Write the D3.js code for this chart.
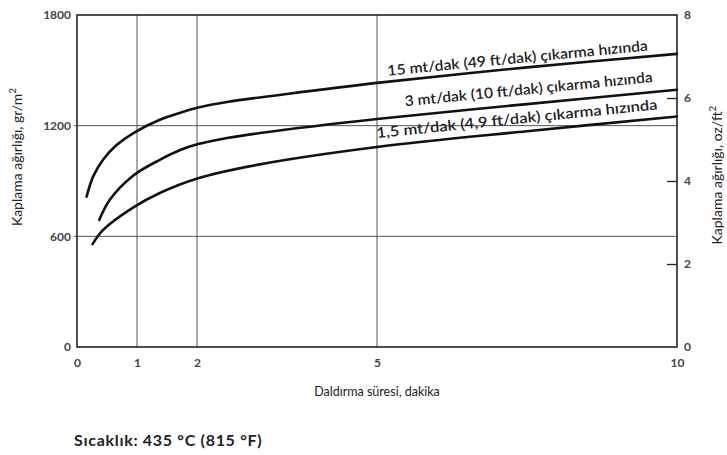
<!DOCTYPE html>
<html lang="tr">
  <head>
    <meta charset="UTF-8" />
    <title>Kaplama ağırlığı - Daldırma süresi</title>
    <style>
      body {
        margin: 0;
        background-color: #fff;
      }
      svg text {
        font-family: Lato, "Open Sans", sans-serif;
        fill: #222;
      }
    </style>
  </head>
  <body>
    <svg id="chart" width="727" height="455"></svg>
    <script src="https://d3js.org/d3.v7.min.js"></script>
    <script>
      // dipping time (min) -> coating weight (g/m2)
      const times15 = [0.16, 0.27, 0.44, 0.66, 0.94, 1.38, 1.72, 2.02, 2.5, 3.5, 5, 7.5, 10];
      const weights15 = [815, 925, 1018, 1095, 1160, 1232, 1270, 1298, 1328, 1372, 1432, 1516, 1589];

      const times3 = [0.37, 0.55, 0.94, 1.38, 1.72, 2.02, 2.5, 3.05, 5, 7.5, 10];
      const weights3 = [689, 800, 930, 1015, 1068, 1100, 1133, 1160, 1236, 1317, 1395];

      const times15b = [0.26, 0.44, 0.94, 1.38, 2.02, 3.05, 5, 7.5, 10];
      const weights15b = [558, 636, 757, 835, 915, 990, 1084, 1170, 1250];

      const seriesLabels = [
        "15 mt/dak (49 ft/dak) çıkarma hızında",
        "3 mt/dak (10 ft/dak) çıkarma hızında",
        "1,5 mt/dak (4,9 ft/dak) çıkarma hızında",
      ];

      const xTicks = [0, 1, 2, 5, 10];
      const yTicks = [0, 600, 1200, 1800];
      const ozTicks = [0, 2, 4, 6, 8];

      const svg = d3.select("#chart");
      const margin = { top: 15, right: 50, bottom: 108, left: 77 };
      const width = 727 - margin.left - margin.right;
      const height = 455 - margin.top - margin.bottom;

      const g = svg
        .append("g")
        .attr("transform", `translate(${margin.left},${margin.top})`);

      const x = d3.scaleLinear().domain([0, 10]).range([0, width]);
      const y = d3.scaleLinear().domain([0, 1800]).range([height, 0]);
      const yOz = d3.scaleLinear().domain([0, 8]).range([height, 0]);

      // grid lines
      g.append("g")
        .selectAll("line")
        .data(yTicks.filter((d) => d > 0 && d < 1800))
        .join("line")
        .attr("x1", -3)
        .attr("x2", width)
        .attr("y1", (d) => y(d))
        .attr("y2", (d) => y(d))
        .style("stroke", "#555")
        .style("stroke-width", 1);

      g.append("g")
        .selectAll("line")
        .data(xTicks.filter((d) => d > 0 && d < 10))
        .join("line")
        .attr("x1", (d) => x(d))
        .attr("x2", (d) => x(d))
        .attr("y1", 0)
        .attr("y2", height)
        .style("stroke", "#555")
        .style("stroke-width", 1);

      // frame
      g.append("rect")
        .attr("width", width)
        .attr("height", height)
        .style("fill", "none")
        .style("stroke", "#222")
        .style("stroke-width", 1.6);

      function styleTicks(axis) {
        axis.select(".domain").remove();
        axis
          .selectAll("text")
          .style("font-size", "12px")
          .style("font-weight", "bold")
          .style("font-family", "Lato, sans-serif")
          .style("fill", "#444");
      }

      // left axis
      const leftAxis = g
        .append("g")
        .call(
          d3
            .axisLeft(y)
            .tickValues(yTicks)
            .tickFormat(d3.format("d"))
            .tickSize(0)
            .tickPadding(6)
        );
      styleTicks(leftAxis);

      // right axis (oz/ft2)
      const rightAxis = g
        .append("g")
        .attr("transform", `translate(${width},0)`)
        .call(
          d3
            .axisRight(yOz)
            .tickValues(ozTicks)
            .tickSizeInner(0)
            .tickSizeOuter(0)
            .tickPadding(7)
        );
      styleTicks(rightAxis);
      rightAxis
        .selectAll(".tick")
        .filter((d) => d > 0 && d < 8)
        .append("line")
        .attr("x1", -10)
        .attr("x2", 0)
        .style("stroke", "#222")
        .style("stroke-width", 1.3);

      // bottom axis
      const bottomAxis = g
        .append("g")
        .attr("transform", `translate(0,${height})`)
        .call(d3.axisBottom(x).tickValues(xTicks).tickSize(0).tickPadding(11));
      styleTicks(bottomAxis);

      // curves
      const series = [
        { times: times15, weights: weights15 },
        { times: times3, weights: weights3 },
        { times: times15b, weights: weights15b },
      ];

      const line = d3
        .line()
        .x((d) => x(d[0]))
        .y((d) => y(d[1]))
        .curve(d3.curveCatmullRom.alpha(0.5));

      g.selectAll("path.curve")
        .data(series)
        .join("path")
        .attr("class", "curve")
        .attr("d", (s) => line(d3.zip(s.times, s.weights)))
        .style("fill", "none")
        .style("stroke", "#111")
        .style("stroke-width", 2.6)
        .style("stroke-linecap", "round");

      // labels along the curves
      const labelLayout = [
        { t0: 5.18, t1: 9.52, lift: 6 },
        { t0: 5.47, t1: 9.6, lift: 10 },
        { t0: 5.0, t1: 9.68, lift: 9 },
      ];

      series.forEach((s, i) => {
        const lay = labelLayout[i];
        const interp = d3.scaleLinear().domain(s.times).range(s.weights);
        const px0 = x(lay.t0);
        const py0 = y(interp(lay.t0)) - lay.lift;
        const px1 = x(lay.t1);
        const py1 = y(interp(lay.t1)) - lay.lift;
        const angle = (Math.atan2(py1 - py0, px1 - px0) * 180) / Math.PI;
        g.append("text")
          .attr("transform", `translate(${px0},${py0}) rotate(${angle})`)
          .attr("textLength", Math.hypot(px1 - px0, py1 - py0))
          .attr("lengthAdjust", "spacingAndGlyphs")
          .style("font-size", "14.5px")
          .style("font-weight", 600)
          .text(seriesLabels[i]);
      });

      // axis titles
      const leftTitle = svg
        .append("text")
        .attr("transform", "translate(22,157) rotate(-90)")
        .attr("text-anchor", "middle")
        .style("font-size", "14px");
      leftTitle.append("tspan").text("Kaplama ağırlığı, gr/m");
      leftTitle
        .append("tspan")
        .attr("dy", -6)
        .style("font-size", "10px")
        .text("2");

      const rightTitle = svg
        .append("text")
        .attr("transform", "translate(722,175) rotate(-90)")
        .attr("text-anchor", "middle")
        .style("font-size", "14px");
      rightTitle.append("tspan").text("Kaplama ağırlığı, oz/ft");
      rightTitle
        .append("tspan")
        .attr("dy", -6)
        .style("font-size", "10px")
        .text("2");

      svg
        .append("text")
        .attr("x", margin.left + x(5))
        .attr("y", 396)
        .attr("text-anchor", "middle")
        .style("font-size", "12.5px")
        .text("Daldırma süresi, dakika");

      svg
        .append("text")
        .attr("x", 74)
        .attr("y", 446)
        .style("font-size", "16px")
        .style("font-weight", "bold")
        .style("letter-spacing", "0.7px")
        .text("Sıcaklık: 435 °C (815 °F)");
    </script>
  </body>
</html>
